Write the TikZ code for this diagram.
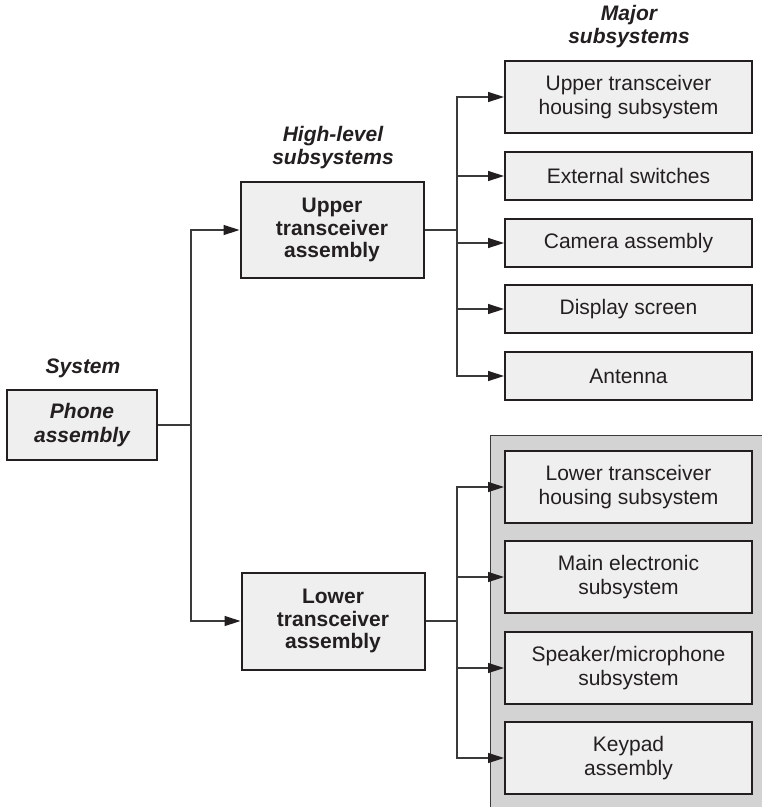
\documentclass[tikz,border=0pt]{standalone}
\usepackage{fontspec}
\setmainfont{Liberation Sans}
\usetikzlibrary{arrows.meta}
\definecolor{boxfill}{HTML}{EFEFEF}
\definecolor{panel}{HTML}{D3D3D3}
\definecolor{ink}{HTML}{231F20}
\definecolor{wire}{HTML}{3A3A3A}
\tikzset{
  blk/.style={draw=ink, line width=2pt, fill=boxfill, text=ink, align=center,
    inner sep=0pt, font=\fontsize{21}{23.5}\selectfont},
  head/.style={text=ink, align=center, inner sep=0pt,
    font=\fontsize{21}{23}\selectfont\bfseries\itshape},
  wirel/.style={draw=wire, line width=1.4pt},
  arr/.style={wirel, -{Triangle[length=16pt,width=10pt,color=ink]}},
}
\begin{document}
\begin{tikzpicture}[x=1pt,y=-1pt]
\useasboundingbox (0,0) rectangle (762,807);

% shaded panel behind the lower subsystems
\fill[panel] (490,435) rectangle (762,807);
\draw[wire, line width=1pt] (490,807) -- (490,435) -- (762,435);

% column headings
\node[head] (hsys) at (83,368) {System};
\node[head] (hhigh) at (333,148) {High-level\\subsystems};
\node[head] (hmaj) at (629,27) {Major\\subsystems};

% system level
\node[blk, minimum width=150pt, minimum height=70pt, font=\fontsize{21}{24.5}\selectfont\bfseries\itshape]
  (phone) at (82,425) {Phone\\assembly};

% high-level subsystems
\node[blk, minimum width=183pt, minimum height=96pt, font=\fontsize{21}{22.5}\selectfont\bfseries]
  (upper) at (332,230) {Upper\\transceiver\\assembly};
\node[blk, minimum width=183pt, minimum height=97pt, font=\fontsize{21}{22.5}\selectfont\bfseries]
  (lower) at (333,621) {Lower\\transceiver\\assembly};

% major subsystems, upper branch
\node[blk, minimum width=247pt, minimum height=72pt] (u1) at (628.5,97) {Upper transceiver\\housing subsystem};
\node[blk, minimum width=247pt, minimum height=48pt] (u2) at (628.5,176) {External switches};
\node[blk, minimum width=247pt, minimum height=48pt] (u3) at (628.5,243) {Camera assembly};
\node[blk, minimum width=247pt, minimum height=48pt] (u4) at (628.5,309) {Display screen};
\node[blk, minimum width=247pt, minimum height=48pt] (u5) at (628.5,376) {Antenna};

% major subsystems, lower branch
\node[blk, minimum width=247pt, minimum height=72pt] (l1) at (628.5,487) {Lower transceiver\\housing subsystem};
\node[blk, minimum width=247pt, minimum height=72pt] (l2) at (628.5,577) {Main electronic\\subsystem};
\node[blk, minimum width=247pt, minimum height=72pt] (l3) at (628.5,668) {Speaker/microphone\\subsystem};
\node[blk, minimum width=247pt, minimum height=72pt] (l4) at (628.5,758) {Keypad\\assembly};

% trunk coordinates
\coordinate (ts) at (191,425);
\coordinate (tu) at (457,230);
\coordinate (tl) at (457,621);

% system to high-level
\draw[wirel] (phone.east) -- (ts);
\draw[arr] (ts) |- (upper.west);
\draw[arr] (ts) |- (lower.west);

% upper branch
\draw[wirel] (upper.east) -- (tu);
\foreach \n in {u1,u2,u3,u4,u5} \draw[arr] (tu) |- (\n.west);

% lower branch
\draw[wirel] (lower.east) -- (tl);
\foreach \n in {l1,l2,l3,l4} \draw[arr] (tl) |- (\n.west);
\end{tikzpicture}
\end{document}
